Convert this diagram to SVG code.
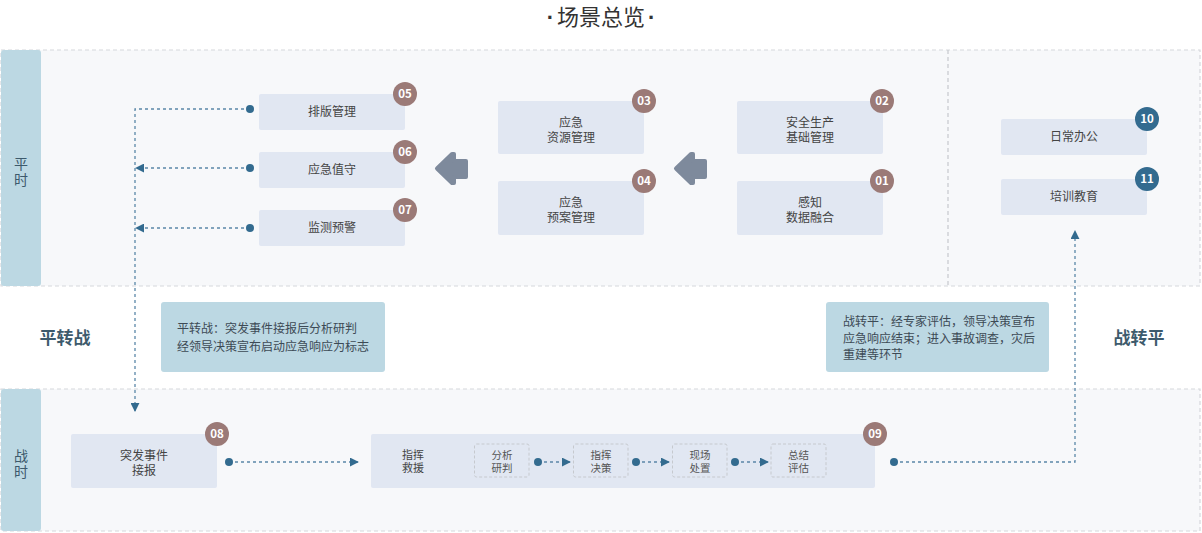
<svg xmlns="http://www.w3.org/2000/svg" width="1202" height="533" viewBox="0 0 1202 533">
<defs>
<style>
text{font-family:"Noto Sans CJK SC","Noto Sans",sans-serif}
.sec{fill:#f7f8fa;stroke:#d6d8dc;stroke-width:1.2;stroke-dasharray:4 3}
.bar{fill:#bcd8e3}
.box{fill:#e1e7f2}
.info{fill:#bcd8e3}
.sub{fill:none;stroke:#c6c9ce;stroke-width:1;stroke-dasharray:3 2}
.t{font-size:12px;fill:#444;text-anchor:middle}
.tm{font-size:11px;fill:#444;text-anchor:middle}
.ts{font-size:10.5px;fill:#555;text-anchor:middle}
.it{font-size:12px;fill:#3d4a55}
.lbl{font-size:17px;font-weight:bold;fill:#3d5a6c;text-anchor:middle}
.vl{font-size:14px;fill:#3d5a6c;text-anchor:middle}
.bd{fill:#9b7a77}
.bb{fill:#336b8f}
.bt{font-size:11.5px;font-weight:bold;fill:#fff;text-anchor:middle}
.ln{fill:none;stroke:#5b87a8;stroke-width:1.3;stroke-dasharray:3 3}
.dot{fill:#336b8f}
.fat{fill:#7e8a9c;stroke:#7e8a9c;stroke-width:4;stroke-linejoin:round}
</style>
<marker id="ah" viewBox="0 0 10 10" refX="9" refY="5" markerWidth="9" markerHeight="9" markerUnits="userSpaceOnUse" orient="auto">
<path d="M0,0 L10,5 L0,10 Z" fill="#336b8f"/>
</marker>
</defs>

<text x="601" y="25" font-size="22" fill="#333" text-anchor="middle"><tspan font-family="Liberation Sans" font-weight="bold">·</tspan><tspan dx="3">场景总览</tspan><tspan dx="3" font-family="Liberation Sans" font-weight="bold">·</tspan></text>

<g id="section-peace">
<rect class="sec" x="1" y="50" width="1199" height="236"/>
<rect class="bar" x="1" y="50" width="40" height="236" rx="3"/>
<line x1="948" y1="50" x2="948" y2="286" stroke="#c6c9ce" stroke-width="1.2" stroke-dasharray="4 3"/>
<text class="vl" x="21" y="169">平</text>
<text class="vl" x="21" y="185">时</text>
</g>

<g id="section-war">
<rect class="sec" x="1" y="389" width="1199" height="142"/>
<rect class="bar" x="1" y="389" width="40" height="142" rx="3"/>
<text class="vl" x="21" y="461">战</text>
<text class="vl" x="21" y="477">时</text>
</g>

<g id="label-p2w"><text class="lbl" x="65" y="344">平转战</text></g>
<g id="label-w2p"><text class="lbl" x="1139" y="344">战转平</text></g>

<g id="info-p2w">
<rect class="info" x="161" y="302" width="224" height="70" rx="3"/>
<text class="it" x="177" y="333">平转战：突发事件接报后分析研判</text>
<text class="it" x="177" y="351">经领导决策宣布启动应急响应为标志</text>
</g>

<g id="info-w2p">
<rect class="info" x="826" y="302" width="223" height="70" rx="3"/>
<text class="it" x="843" y="326">战转平：经专家评估，领导决策宣布</text>
<text class="it" x="843" y="343">应急响应结束；进入事故调查，灾后</text>
<text class="it" x="843" y="359">重建等环节</text>
</g>

<g id="n05">
<rect class="box" x="259" y="94" width="146" height="36" rx="2"/>
<text class="t" x="332" y="116">排版管理</text>
<circle class="bd" cx="405" cy="94" r="12"/><text class="bt" x="405" y="98">05</text>
</g>
<g id="n06">
<rect class="box" x="259" y="152" width="146" height="36" rx="2"/>
<text class="t" x="332" y="174">应急值守</text>
<circle class="bd" cx="405" cy="152" r="12"/><text class="bt" x="405" y="156">06</text>
</g>
<g id="n07">
<rect class="box" x="259" y="210" width="146" height="36" rx="2"/>
<text class="t" x="332" y="232">监测预警</text>
<circle class="bd" cx="405" cy="210" r="12"/><text class="bt" x="405" y="214">07</text>
</g>

<g id="n03">
<rect class="box" x="498" y="101" width="146" height="53" rx="2"/>
<text class="t" x="571" y="127">应急</text>
<text class="t" x="571" y="142">资源管理</text>
<circle class="bd" cx="644" cy="101" r="12"/><text class="bt" x="644" y="105">03</text>
</g>
<g id="n04">
<rect class="box" x="498" y="181" width="146" height="54" rx="2"/>
<text class="t" x="571" y="207">应急</text>
<text class="t" x="571" y="222">预案管理</text>
<circle class="bd" cx="644" cy="181" r="12"/><text class="bt" x="644" y="185">04</text>
</g>

<g id="n02">
<rect class="box" x="737" y="101" width="146" height="53" rx="2"/>
<text class="t" x="810" y="127">安全生产</text>
<text class="t" x="810" y="142">基础管理</text>
<circle class="bd" cx="882" cy="101" r="12"/><text class="bt" x="882" y="105">02</text>
</g>
<g id="n01">
<rect class="box" x="737" y="181" width="146" height="54" rx="2"/>
<text class="t" x="810" y="207">感知</text>
<text class="t" x="810" y="222">数据融合</text>
<circle class="bd" cx="882" cy="181" r="12"/><text class="bt" x="882" y="185">01</text>
</g>

<g id="n10">
<rect class="box" x="1001" y="119" width="146" height="36" rx="2"/>
<text class="t" x="1074" y="141">日常办公</text>
<circle class="bb" cx="1147" cy="119" r="12"/><text class="bt" x="1147" y="123">10</text>
</g>
<g id="n11">
<rect class="box" x="1001" y="179" width="146" height="36" rx="2"/>
<text class="t" x="1074" y="201">培训教育</text>
<circle class="bb" cx="1147" cy="179" r="12"/><text class="bt" x="1147" y="183">11</text>
</g>

<g id="n08">
<rect class="box" x="71" y="434" width="146" height="54" rx="2"/>
<text class="t" x="144" y="460">突发事件</text>
<text class="t" x="144" y="475">接报</text>
<circle class="bd" cx="217" cy="434" r="12"/><text class="bt" x="217" y="438">08</text>
</g>

<g id="n09">
<rect class="box" x="371" y="434" width="504" height="54" rx="2"/>
<text class="tm" x="413" y="459">指挥</text>
<text class="tm" x="413" y="471.5">救援</text>
<rect class="sub" x="474.5" y="444" width="54.5" height="33" rx="2"/>
<text class="ts" x="502" y="459">分析</text><text class="ts" x="502" y="471.5">研判</text>
<rect class="sub" x="573.5" y="444" width="54.5" height="33" rx="2"/>
<text class="ts" x="601" y="459">指挥</text><text class="ts" x="601" y="471.5">决策</text>
<rect class="sub" x="672.5" y="444" width="54.5" height="33" rx="2"/>
<text class="ts" x="700" y="459">现场</text><text class="ts" x="700" y="471.5">处置</text>
<rect class="sub" x="771" y="444" width="55" height="33" rx="2"/>
<text class="ts" x="798.5" y="459">总结</text><text class="ts" x="798.5" y="471.5">评估</text>
<circle class="bd" cx="875" cy="434" r="12"/><text class="bt" x="875" y="438">09</text>
</g>

<g id="connectors">
<path class="fat" d="M437,168.5 L452,154 L454,154 L454,161 L466,161 L466,177 L454,177 L454,183 L452,183 Z"/>
<path class="fat" d="M676,168.5 L691,154 L693,154 L693,161 L705,161 L705,177 L693,177 L693,183 L691,183 Z"/>
<path class="ln" d="M250,109 H135 V411" marker-end="url(#ah)"/>
<path class="ln" d="M250,168 H136" marker-end="url(#ah)"/>
<path class="ln" d="M250,228 H136" marker-end="url(#ah)"/>
<circle class="dot" cx="250" cy="109" r="4"/>
<circle class="dot" cx="250" cy="168" r="4"/>
<circle class="dot" cx="250" cy="228" r="4"/>
<path class="ln" d="M229,462 H358" marker-end="url(#ah)"/>
<circle class="dot" cx="229" cy="462" r="4"/>
<path class="ln" d="M538,462 H570" marker-end="url(#ah)"/>
<circle class="dot" cx="538" cy="462" r="4"/>
<path class="ln" d="M636,462 H669" marker-end="url(#ah)"/>
<circle class="dot" cx="636" cy="462" r="4"/>
<path class="ln" d="M735,462 H768" marker-end="url(#ah)"/>
<circle class="dot" cx="735" cy="462" r="4"/>
<path class="ln" d="M894,462 H1075 V231" marker-end="url(#ah)"/>
<circle class="dot" cx="894" cy="462" r="4"/>
</g>
</svg>
